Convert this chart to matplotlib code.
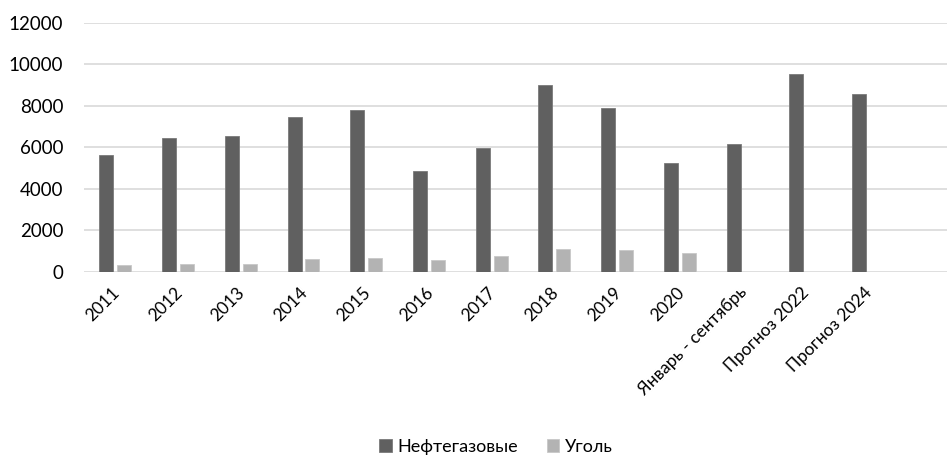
import matplotlib
matplotlib.use("Agg")
import matplotlib.pyplot as plt
import matplotlib.transforms as mtransforms
import numpy as np

plt.rcParams['font.family'] = ['Lato', 'DejaVu Sans']

categories = ["2011", "2012", "2013", "2014", "2015", "2016", "2017", "2018",
              "2019", "2020", "Январь - сентябрь", "Прогноз 2022", "Прогноз 2024"]
oil_gas = [5620, 6440, 6520, 7440, 7790, 4840, 5980, 9000, 7900, 5220, 6170, 9530, 8550]
coal = [320, 385, 385, 625, 640, 560, 770, 1090, 1030, 900, None, None, None]
yticks = [0, 2000, 4000, 6000, 8000, 10000, 12000]

fig = plt.figure(figsize=(9.47, 4.66), dpi=100)
ax = fig.add_axes([84/947, 1-271.7/466, 1-84/947, (271.7-22.7)/466])

x = np.arange(len(categories))
w = 0.223
off = 0.143
ax.bar(x - off, oil_gas, width=w, color='#606060', edgecolor='#7a7a7a', linewidth=0.6,
       label='Нефтегазовые', zorder=3)
cx = [i for i, v in enumerate(coal) if v is not None]
cv = [v for v in coal if v is not None]
ax.bar(np.array(cx) + off, cv, width=w, color='#b3b3b3', edgecolor='#c8c8c8', linewidth=0.6,
       label='Уголь', zorder=3)

ax.set_ylim(0, 12000)
ax.set_xlim(-0.5, 13.26)
ax.set_yticks(yticks)
ax.set_yticklabels([str(t) for t in yticks], fontsize=13.5)
ax.grid(axis='y', color='#d9d9d9', linewidth=1.2, zorder=0)
ax.set_axisbelow(True)
for s in ax.spines.values():
    s.set_visible(False)
ax.tick_params(axis='both', length=0)
ax.tick_params(axis='y', pad=15)
ax.set_xticks(x)
ax.set_xticklabels(categories, rotation=45, ha='right', rotation_mode='anchor', fontsize=12.5)
ax.tick_params(axis='x', pad=9)
shift = mtransforms.ScaledTranslation(-4/100, 0, fig.dpi_scale_trans)
for lab in ax.get_xticklabels():
    lab.set_transform(lab.get_transform() + shift)

fig.legend(loc='center', bbox_to_anchor=(496/947, 1-447/466), ncol=2, frameon=False,
           fontsize=13, handlelength=0.7, handleheight=0.7, handletextpad=0.3,
           columnspacing=1.6)

fig.savefig('out.png', dpi=100)
